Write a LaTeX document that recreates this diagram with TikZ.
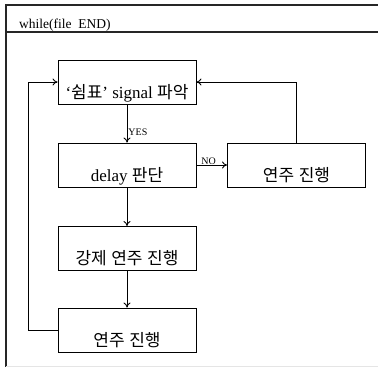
\documentclass[tikz,border=0pt]{standalone}
\usepackage{fontspec}
\setmainfont{Liberation Serif}
\newfontfamily\kr{Noto Sans CJK KR}[Scale=1.0,WordSpace=1.2]
\usetikzlibrary{arrows.meta}

\tikzset{
  stage/.style={draw=black, line width=0.9pt, minimum width=138pt, minimum height=44pt,
    inner sep=0pt, text height=38pt, text depth=6pt, font=\fontsize{17}{19}\selectfont},
  flow/.style={-{To[length=5pt,width=7pt]}, line width=0.9pt},
  tag/.style={font=\fontsize{10}{11}\selectfont, inner sep=1pt},
  frame/.style={line width=1.3pt, black!85}
}

\begin{document}
\begin{tikzpicture}[x=1pt,y=1pt]
                \useasboundingbox (0,0) rectangle (378,-367);
                % loop frame
                \draw[frame] (6,-367) -- (6,-5) -- (378,-5);
                \draw[frame] (6,-32) -- (378,-32);
                \draw[black!10] (6,-366) -- (378,-366);
                \node[anchor=base west, inner sep=0pt, font=\fontsize{13.5}{15}\selectfont] (head) at (19,-28) {while(file~~END)};

                \node[stage] (signal) at (127,-82) {‘{\kr 쉼표}’ signal {\kr 파악}};
                \node[stage] (delay) at (127,-165) {delay {\kr 판단}};
                \node[stage] (play1) at (296.5,-165) {\kr 연주 진행};
                \node[stage] (force) at (127,-248.5) {\kr 강제 연주 진행};
                \node[stage] (play2) at (127,-330) {\kr 연주 진행};
                \coordinate (back) at (28,-330);

                \draw[flow] (signal) -- node[tag, pos=0.74, right] {YES} (delay);
                \draw[flow] (delay) -- node[tag, pos=0.4, above, inner sep=0pt] {NO} (play1);
                \draw[flow] (play1.north) |- (signal.east);
                \draw[flow] (delay) -- (force);
                \draw[flow] (force) -- (play2);
                \draw[flow] (play2.west) -- (back) |- (signal.west);
            \end{tikzpicture}
\end{document}
